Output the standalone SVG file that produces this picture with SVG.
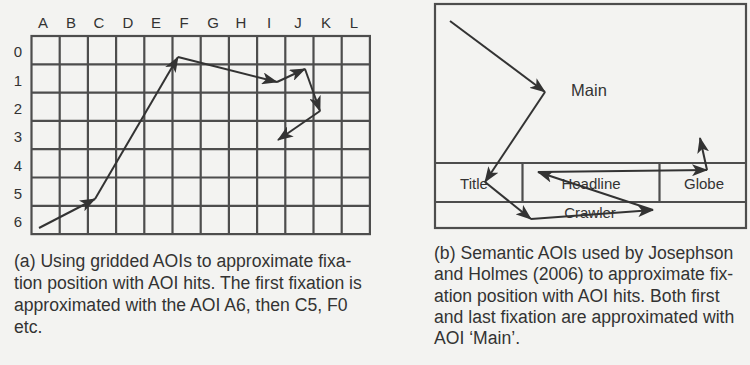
<svg xmlns="http://www.w3.org/2000/svg" width="750" height="365" viewBox="0 0 750 365">
<defs>
<style>
text{font-family:"Liberation Sans",Arial,sans-serif;fill:#333}
.lbl{font-size:15px;text-anchor:middle}
.cap{font-size:17.6px}
.aoi{font-size:15px;text-anchor:middle}
.grid{stroke:#4d4d4d;stroke-width:2.2;fill:none}
.path{stroke:#333;stroke-width:2;fill:none;marker-end:url(#ah)}
</style>
<marker id="ah" markerUnits="userSpaceOnUse" markerWidth="16" markerHeight="12" refX="15" refY="6" orient="auto" viewBox="0 0 16 12">
<path d="M0,0 L16,6 L0,12 L4,6 Z" fill="#333"/>
</marker>
</defs>
<rect width="750" height="365" fill="#f3f3f1"/>
<g id="grid-panel">
<rect x="31.5" y="36" width="338.4" height="198.1" fill="#f8f8f6" class="grid"/>
<path class="grid" d="M59.7,36V234.1M87.9,36V234.1M116.1,36V234.1M144.3,36V234.1M172.5,36V234.1M200.7,36V234.1M228.9,36V234.1M257.1,36V234.1M285.3,36V234.1M313.5,36V234.1M341.7,36V234.1M31.5,64.3H369.9M31.5,92.6H369.9M31.5,120.9H369.9M31.5,149.2H369.9M31.5,177.5H369.9M31.5,205.8H369.9"/>
<g id="col-labels">
<text class="lbl" x="43" y="28">A</text>
<text class="lbl" x="71" y="28">B</text>
<text class="lbl" x="99" y="28">C</text>
<text class="lbl" x="128" y="28">D</text>
<text class="lbl" x="156" y="28">E</text>
<text class="lbl" x="184" y="28">F</text>
<text class="lbl" x="213" y="28">G</text>
<text class="lbl" x="241" y="28">H</text>
<text class="lbl" x="269" y="28">I</text>
<text class="lbl" x="298" y="28">J</text>
<text class="lbl" x="326" y="28">K</text>
<text class="lbl" x="354" y="28">L</text>
</g>
<g id="row-labels">
<text class="lbl" x="18" y="57">0</text>
<text class="lbl" x="18" y="86">1</text>
<text class="lbl" x="18" y="114">2</text>
<text class="lbl" x="18" y="142">3</text>
<text class="lbl" x="18" y="171">4</text>
<text class="lbl" x="18" y="199">5</text>
<text class="lbl" x="18" y="227">6</text>
</g>
</g>
<g id="grid-scanpath">
<line class="path" x1="39" y1="228" x2="95" y2="199"/>
<line class="path" x1="95" y1="199" x2="178" y2="57"/>
<line class="path" x1="178" y1="57" x2="277" y2="82"/>
<line class="path" x1="277" y1="82" x2="305" y2="69"/>
<line class="path" x1="305" y1="69" x2="320" y2="111"/>
<line class="path" x1="320" y1="111" x2="278" y2="140"/>
</g>
<g id="semantic-panel">
<rect x="435" y="4" width="311" height="224" fill="#f8f8f6" class="grid"/>
<path class="grid" d="M435,163H746M435,202H746M522.5,163V202M659.5,163V202"/>
<g id="aoi-main"><text x="589" y="96" style="font-size:16.5px;text-anchor:middle">Main</text></g>
<g id="aoi-title"><text class="aoi" x="474" y="189">Title</text></g>
<g id="aoi-headline"><text class="aoi" x="591" y="189">Headline</text></g>
<g id="aoi-globe"><text class="aoi" x="704" y="189">Globe</text></g>
<g id="aoi-crawler"><text class="aoi" x="590" y="218">Crawler</text></g>
</g>
<g id="semantic-scanpath">
<line class="path" x1="450" y1="21" x2="545" y2="92"/>
<line class="path" x1="545" y1="92" x2="485" y2="182"/>
<line class="path" x1="485" y1="182" x2="531" y2="219"/>
<line class="path" x1="531" y1="219" x2="653" y2="210"/>
<line class="path" x1="653" y1="210" x2="538" y2="172"/>
<line class="path" x1="538" y1="172" x2="707" y2="170"/>
<line class="path" x1="707" y1="170" x2="700" y2="138"/>
</g>
<g id="caption-a">
<text class="cap" x="14" y="267">(a) Using gridded AOIs to approximate fixa-</text>
<text class="cap" x="14" y="289">tion position with AOI hits. The first fixation is</text>
<text class="cap" x="14" y="311">approximated with the AOI A6, then C5, F0</text>
<text class="cap" x="14" y="333">etc.</text>
</g>
<g id="caption-b">
<text class="cap" x="434" y="259">(b) Semantic AOIs used by Josephson</text>
<text class="cap" x="434" y="280">and Holmes (2006) to approximate fix-</text>
<text class="cap" x="434" y="302">ation position with AOI hits. Both first</text>
<text class="cap" x="434" y="323">and last fixation are approximated with</text>
<text class="cap" x="434" y="344">AOI ‘Main’.</text>
</g>
</svg>
